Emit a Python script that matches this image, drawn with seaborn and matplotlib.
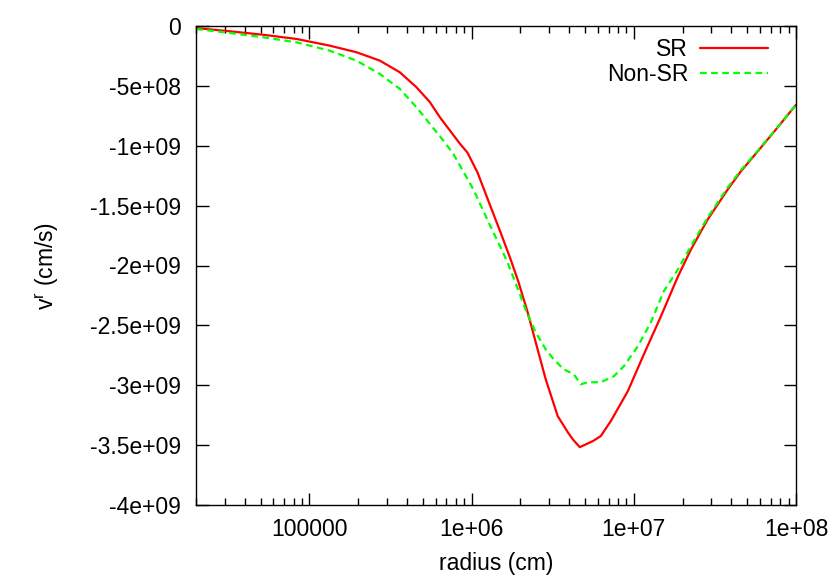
import numpy as np
import pandas as pd
import matplotlib
matplotlib.use("Agg")
import matplotlib.pyplot as plt
import matplotlib.ticker as mticker
import seaborn as sns

# log10 of radius (cm) and radial velocity (1e9 cm/s)
sr_logr = [4.302, 4.508, 4.714, 4.920, 5.125, 5.290, 5.434, 5.557, 5.660, 5.743,
           5.804, 5.866, 5.928, 5.975, 6.037, 6.117, 6.179, 6.241, 6.290, 6.346,
           6.407, 6.457, 6.531, 6.593, 6.623, 6.667, 6.747, 6.796, 6.858, 6.963,
           7.062, 7.167, 7.272, 7.352, 7.455, 7.578, 7.660, 7.764, 7.866, 8.000]
sr_v = [-0.017, -0.044, -0.073, -0.108, -0.164, -0.219, -0.289, -0.386, -0.511, -0.636,
        -0.761, -0.872, -0.983, -1.058, -1.225, -1.508, -1.725, -1.950, -2.142, -2.392,
        -2.700, -2.950, -3.258, -3.392, -3.450, -3.517, -3.467, -3.425, -3.300, -3.050,
        -2.742, -2.425, -2.092, -1.867, -1.617, -1.367, -1.214, -1.047, -0.881, -0.658]

nonsr_logr = [4.302, 4.508, 4.714, 4.920, 5.125, 5.290, 5.434, 5.557, 5.660, 5.743,
              5.825, 5.887, 6.012, 6.117, 6.179, 6.222, 6.284, 6.340, 6.395, 6.457,
              6.506, 6.568, 6.630, 6.673, 6.716, 6.796, 6.877, 6.938, 7.025, 7.105,
              7.185, 7.272, 7.352, 7.455, 7.578, 7.660, 7.764, 7.866, 8.000]
nonsr_v = [-0.025, -0.058, -0.094, -0.136, -0.206, -0.289, -0.400, -0.525, -0.678, -0.817,
           -0.956, -1.067, -1.367, -1.675, -1.850, -1.975, -2.192, -2.392, -2.558, -2.700,
           -2.783, -2.867, -2.908, -2.992, -2.975, -2.975, -2.925, -2.842, -2.675, -2.475,
           -2.215, -2.033, -1.839, -1.600, -1.350, -1.204, -1.042, -0.877, -0.658]

df = pd.concat([
    pd.DataFrame({"radius": 10 ** np.array(sr_logr), "v": np.array(sr_v) * 1e9, "run": "SR"}),
    pd.DataFrame({"radius": 10 ** np.array(nonsr_logr), "v": np.array(nonsr_v) * 1e9, "run": "Non-SR"}),
])

sns.set_style("ticks")
plt.rcParams["font.family"] = ["Liberation Sans", "DejaVu Sans"]
plt.rcParams["text.color"] = "black"
plt.rcParams["axes.labelcolor"] = "black"
fs = 16.5

fig = plt.figure(figsize=(8.3, 5.8), dpi=100)
ax = fig.add_axes([196 / 830, 75 / 580, 600 / 830, 479 / 580])

sns.lineplot(data=df, x="radius", y="v", hue="run", style="run",
             palette={"SR": "#ff0000", "Non-SR": "#00ff00"},
             dashes={"SR": "", "Non-SR": (3, 2)},
             linewidth=1.6, sort=False, estimator=None, ax=ax)

ax.set_xscale("log")
ax.set_xlim(2e4, 1e8)
ax.set_ylim(-4e9, 0)
ax.xaxis.set_major_locator(mticker.FixedLocator([1e5, 1e6, 1e7, 1e8]))
ax.xaxis.set_minor_locator(mticker.LogLocator(base=10, subs=np.arange(2, 10), numticks=20))
ax.xaxis.set_major_formatter(mticker.FuncFormatter(lambda v, p: "%g" % v))
ax.xaxis.set_minor_formatter(mticker.NullFormatter())
ax.yaxis.set_major_locator(mticker.MultipleLocator(5e8))
ax.yaxis.set_major_formatter(mticker.FuncFormatter(lambda v, p: "%g" % v))

ax.tick_params(which="both", direction="in", top=True, right=True, labelsize=fs, width=1, colors="black")
ax.tick_params(which="major", length=9)
ax.tick_params(axis="y", which="major", pad=11)
ax.tick_params(axis="x", which="major", pad=9)
ax.tick_params(which="minor", length=5)
for s in ax.spines.values():
    s.set_visible(True)
    s.set_linewidth(1.0)
    s.set_color("black")

ax.set_xlabel("radius (cm)", fontsize=fs, color="black")
ax.set_ylabel(r"v$^{\mathregular{r}}$ (cm/s)", fontsize=fs, color="black")
ax.xaxis.set_label_coords(0.5, -0.098)
ax.yaxis.set_label_coords(-0.225, 0.5)

leg = ax.legend(loc="upper right", bbox_to_anchor=(0.954, 0.975), frameon=False,
                markerfirst=False, handlelength=3.0, handletextpad=0.5,
                labelspacing=0.1, borderpad=0, borderaxespad=0, fontsize=fs)
for t in leg.get_texts():
    t.set_ha("right")
    t.set_color("black")

fig.savefig("out.png", dpi=100)
